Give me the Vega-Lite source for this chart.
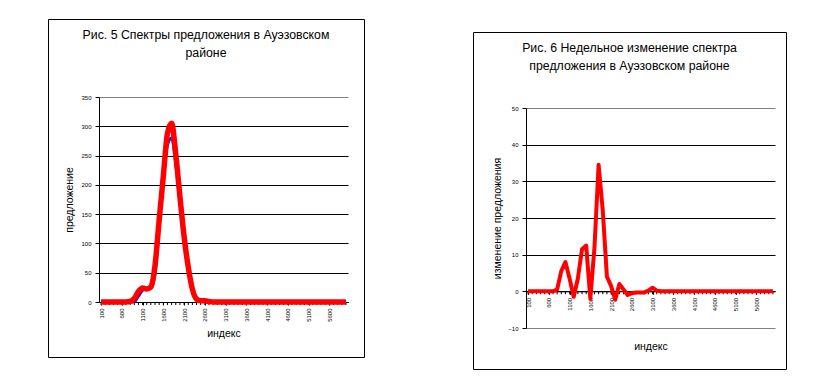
{
  "$schema": "https://vega.github.io/schema/vega-lite/v6.json",
  "padding": {"left": 47, "top": 18, "right": 5, "bottom": 5},
  "background": "#ffffff",
  "config": {
    "font": "Liberation Sans",
    "concat": {"spacing": 0},
    "view": {"stroke": "#000000", "strokeWidth": 1},
    "axis": {
      "labelColor": "#000000", "tickColor": "#000000", "domainColor": "#000000",
      "titleColor": "#000000", "titleFontWeight": "normal",
      "labelFont": "Liberation Sans", "titleFont": "Liberation Sans"
    },
    "axisX": {"labelOverlap": false, "labelSeparation": 0, "labelBound": false, "labelFlush": false},
    "title": {"font": "Liberation Sans", "fontWeight": "normal", "color": "#000000"}
  },
  "datasets": {
    "supply": [
      {"idx": 100, "prev": 0, "cur": 0}, {"idx": 200, "prev": 0, "cur": 0}, {"idx": 300, "prev": 0, "cur": 0},
      {"idx": 400, "prev": 0, "cur": 0}, {"idx": 500, "prev": 0, "cur": 0}, {"idx": 600, "prev": 0, "cur": 0},
      {"idx": 700, "prev": 0, "cur": 0}, {"idx": 800, "prev": 0, "cur": 1}, {"idx": 900, "prev": 0.5, "cur": 6},
      {"idx": 1000, "prev": 10, "cur": 18}, {"idx": 1100, "prev": 20, "cur": 24}, {"idx": 1200, "prev": 23, "cur": 22},
      {"idx": 1300, "prev": 23, "cur": 26}, {"idx": 1400, "prev": 50, "cur": 62}, {"idx": 1500, "prev": 128, "cur": 140},
      {"idx": 1600, "prev": 212, "cur": 215}, {"idx": 1700, "prev": 268, "cur": 288}, {"idx": 1800, "prev": 280, "cur": 305},
      {"idx": 1900, "prev": 236, "cur": 252}, {"idx": 2000, "prev": 172, "cur": 180}, {"idx": 2100, "prev": 110, "cur": 112},
      {"idx": 2200, "prev": 60, "cur": 60}, {"idx": 2300, "prev": 21, "cur": 22}, {"idx": 2400, "prev": 5, "cur": 5},
      {"idx": 2500, "prev": 1, "cur": 2}, {"idx": 2600, "prev": 1, "cur": 2}, {"idx": 2700, "prev": 0, "cur": 1},
      {"idx": 2800, "prev": 0, "cur": 0}, {"idx": 2900, "prev": 0, "cur": 0}, {"idx": 3000, "prev": 0, "cur": 0},
      {"idx": 3100, "prev": 0, "cur": 0}, {"idx": 3200, "prev": 0, "cur": 0}, {"idx": 3300, "prev": 0, "cur": 0},
      {"idx": 3400, "prev": 0, "cur": 0}, {"idx": 3500, "prev": 0, "cur": 0}, {"idx": 3600, "prev": 0, "cur": 0},
      {"idx": 3700, "prev": 0, "cur": 0}, {"idx": 3800, "prev": 0, "cur": 0}, {"idx": 3900, "prev": 0, "cur": 0},
      {"idx": 4000, "prev": 0, "cur": 0}, {"idx": 4100, "prev": 0, "cur": 0}, {"idx": 4200, "prev": 0, "cur": 0},
      {"idx": 4300, "prev": 0, "cur": 0}, {"idx": 4400, "prev": 0, "cur": 0}, {"idx": 4500, "prev": 0, "cur": 0},
      {"idx": 4600, "prev": 0, "cur": 0}, {"idx": 4700, "prev": 0, "cur": 0}, {"idx": 4800, "prev": 0, "cur": 0},
      {"idx": 4900, "prev": 0, "cur": 0}, {"idx": 5000, "prev": 0, "cur": 0}, {"idx": 5100, "prev": 0, "cur": 0},
      {"idx": 5200, "prev": 0, "cur": 0}, {"idx": 5300, "prev": 0, "cur": 0}, {"idx": 5400, "prev": 0, "cur": 0},
      {"idx": 5500, "prev": 0, "cur": 0}, {"idx": 5600, "prev": 0, "cur": 0}, {"idx": 5700, "prev": 0, "cur": 0},
      {"idx": 5800, "prev": 0, "cur": 0}, {"idx": 5900, "prev": 0, "cur": 0}, {"idx": 6000, "prev": 0, "cur": 0}
    ],
    "change": [
      {"idx": 100, "change": 0}, {"idx": 200, "change": 0}, {"idx": 300, "change": 0}, {"idx": 400, "change": 0},
      {"idx": 500, "change": 0}, {"idx": 600, "change": 0}, {"idx": 700, "change": 0}, {"idx": 800, "change": 0.5},
      {"idx": 900, "change": 5.5}, {"idx": 1000, "change": 8}, {"idx": 1100, "change": 3.5}, {"idx": 1200, "change": -1.5},
      {"idx": 1300, "change": 3.5}, {"idx": 1400, "change": 11.5}, {"idx": 1500, "change": 12.5}, {"idx": 1600, "change": -2},
      {"idx": 1700, "change": 12}, {"idx": 1800, "change": 34.5}, {"idx": 1900, "change": 22}, {"idx": 2000, "change": 4},
      {"idx": 2100, "change": 1.5}, {"idx": 2200, "change": -2.3}, {"idx": 2300, "change": 2}, {"idx": 2400, "change": 0.5},
      {"idx": 2500, "change": -1}, {"idx": 2600, "change": -0.5}, {"idx": 2700, "change": -0.3}, {"idx": 2800, "change": -0.3},
      {"idx": 2900, "change": -0.3}, {"idx": 3000, "change": 0.2}, {"idx": 3100, "change": 1}, {"idx": 3200, "change": 0.2},
      {"idx": 3300, "change": 0}, {"idx": 3400, "change": 0}, {"idx": 3500, "change": 0}, {"idx": 3600, "change": 0},
      {"idx": 3700, "change": 0}, {"idx": 3800, "change": 0}, {"idx": 3900, "change": 0}, {"idx": 4000, "change": 0},
      {"idx": 4100, "change": 0}, {"idx": 4200, "change": 0}, {"idx": 4300, "change": 0}, {"idx": 4400, "change": 0},
      {"idx": 4500, "change": 0}, {"idx": 4600, "change": 0}, {"idx": 4700, "change": 0}, {"idx": 4800, "change": 0},
      {"idx": 4900, "change": 0}, {"idx": 5000, "change": 0}, {"idx": 5100, "change": 0}, {"idx": 5200, "change": 0},
      {"idx": 5300, "change": 0}, {"idx": 5400, "change": 0}, {"idx": 5500, "change": 0}, {"idx": 5600, "change": 0},
      {"idx": 5700, "change": 0}, {"idx": 5800, "change": 0}, {"idx": 5900, "change": 0}, {"idx": 6000, "change": 0}
    ]
  },
  "spacing": 107,
  "hconcat": [
    {
      "width": 316,
      "height": 338,
      "title": {
        "text": ["Рис. 5 Спектры предложения в Ауэзовском", "районе"],
        "fontSize": 12.3, "lineHeight": 17.5, "anchor": "middle", "frame": "group",
        "baseline": "top", "offset": -40
      },
      "data": {"name": "supply"},
      "encoding": {
        "x": {
          "field": "idx", "type": "quantitative",
          "scale": {"domain": [50, 6050], "range": [51, 300], "nice": false, "zero": false},
          "axis": {
            "orient": "bottom", "offset": -55, "grid": false,
            "values": [100, 600, 1100, 1600, 2100, 2600, 3100, 3600, 4100, 4600, 5100, 5600],
            "format": "d",
            "labelAngle": -90, "labelFontSize": 6, "labelPadding": 3, "labelOverlap": false,
            "tickSize": 3, "tickWidth": 1, "domainWidth": 1,
            "title": "индекс", "titleFontSize": 10.5, "titlePadding": 7
          }
        }
      },
      "layer": [
        {
          "data": {"values": [{}]},
          "mark": {"type": "rect", "fill": "transparent", "stroke": "#808080", "strokeWidth": 1},
          "encoding": {
            "x": {"datum": 50, "type": "quantitative"},
            "x2": {"datum": 6050},
            "y": {"datum": 0, "type": "quantitative"},
            "y2": {"datum": 350}
          }
        },
        {
          "mark": {"type": "tick", "orient": "vertical", "size": 3, "thickness": 1, "color": "#000000", "yOffset": 1.5, "opacity": 1},
          "encoding": {
            "y": {"datum": 0, "type": "quantitative"}
          }
        },
        {
          "mark": {"type": "line", "color": "#1a1ad8", "strokeWidth": 3, "interpolate": "monotone", "strokeJoin": "round"},
          "encoding": {
            "y": {
              "field": "prev", "type": "quantitative",
              "scale": {"domain": [0, 350], "range": [283, 78], "nice": false},
              "axis": {
                "orient": "left", "offset": -51,
                "values": [0, 50, 100, 150, 200, 250, 300, 350],
                "grid": true, "gridWidth": 1,
                "gridColor": {"condition": {"test": "datum.value == 350", "value": "#808080"}, "value": "#000000"},
                "tickSize": 4, "labelFontSize": 6, "labelPadding": 4,
                "title": "предложение", "titleFontSize": 10.5, "titlePadding": 6
              }
            }
          }
        },
        {
          "mark": {"type": "line", "color": "#ff0000", "strokeWidth": 5.5, "interpolate": "monotone", "strokeJoin": "round"},
          "encoding": {
            "y": {"field": "cur", "type": "quantitative"}
          }
        }
      ]
    },
    {
      "vconcat": [
        {
          "width": 313,
          "height": 12,
          "data": {"values": []},
          "mark": "point",
          "view": {"stroke": null}
        },
        {
          "width": 313,
          "height": 337,
          "title": {
            "text": ["Рис. 6 Недельное изменение спектра", "предложения в Ауэзовском районе"],
            "fontSize": 12.3, "lineHeight": 17.5, "anchor": "middle", "frame": "group",
            "baseline": "top", "offset": -40
          },
          "data": {"name": "change"},
          "encoding": {
            "x": {
              "field": "idx", "type": "quantitative",
              "scale": {"domain": [50, 6050], "range": [53, 302], "nice": false, "zero": false},
              "axis": {
                "orient": "bottom", "offset": -77.7, "grid": false,
                "values": [100, 600, 1100, 1600, 2100, 2600, 3100, 3600, 4100, 4600, 5100, 5600],
                "format": "d",
                "labelAngle": -90, "labelFontSize": 6, "labelPadding": 3, "labelOverlap": false,
                "tickSize": 3, "tickWidth": 1, "domainWidth": 1,
                "title": "индекс", "titleFontSize": 10.5, "titlePadding": 31
              }
            }
          },
          "layer": [
            {
              "data": {"values": [{}]},
              "mark": {"type": "rect", "fill": "transparent", "stroke": "#808080", "strokeWidth": 1},
              "encoding": {
                "x": {"datum": 50, "type": "quantitative"},
                "x2": {"datum": 6050},
                "y": {"datum": -10, "type": "quantitative"},
                "y2": {"datum": 50}
              }
            },
            {
              "mark": {"type": "tick", "orient": "vertical", "size": 3, "thickness": 1, "color": "#000000", "yOffset": 1.5, "opacity": 1},
              "encoding": {
                "y": {"datum": 0, "type": "quantitative"}
              }
            },
            {
              "mark": {"type": "line", "color": "#ff0000", "strokeWidth": 4, "strokeJoin": "round"},
              "encoding": {
                "y": {
                  "field": "change", "type": "quantitative",
                  "scale": {"domain": [-10, 50], "range": [296, 76], "nice": false},
                  "axis": {
                    "orient": "left", "offset": -53,
                    "values": [-10, 0, 10, 20, 30, 40, 50],
                    "grid": true, "gridWidth": 1,
                    "gridColor": {"condition": {"test": "datum.value == 50 || datum.value == -10", "value": "#808080"}, "value": "#000000"},
                    "tickSize": 4, "labelFontSize": 6, "labelPadding": 4,
                    "title": "изменение предложения", "titleFontSize": 10.5, "titlePadding": 5
                  }
                }
              }
            }
          ]
        }
      ]
    }
  ]
}
